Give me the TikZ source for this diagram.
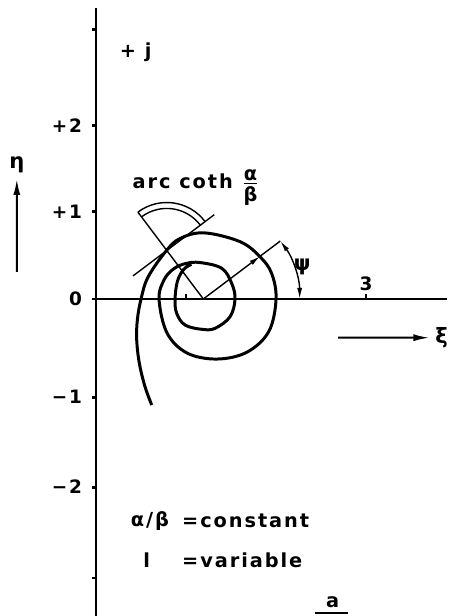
\documentclass[tikz,border=0pt]{standalone}
\usepackage{fontspec}
\setmainfont{DejaVu Sans}
\newfontfamily\letterfont{DejaVu Sans}[LetterSpace=10]
\usepackage{tikz}
\usetikzlibrary{calc,arrows.meta,positioning}

\begin{document}
\begin{tikzpicture}[scale=1.8, >={Latex[length=3.2mm,width=1.4mm]}, line width=0.8pt,
    axisline/.style={line width=1.6pt},
    curve/.style={line width=1.7pt},
    thinline/.style={line width=0.8pt},
    dirarrow/.style={line width=1.1pt,->},
    smalltip/.style={-{Latex[length=2.2mm,width=1mm]}},
    bothtips/.style={{Latex[length=2.2mm,width=1mm]}-{Latex[length=2.2mm,width=1mm]}},
    lbl/.style={font=\letterfont\bfseries\fontsize{11}{13}\selectfont, inner sep=1pt},
    biglbl/.style={font=\letterfont\bfseries\fontsize{12}{14}\selectfont, inner sep=3pt},
    num/.style={font=\letterfont\bfseries\fontsize{10.5}{12}\selectfont, inner sep=1pt}]
    \useasboundingbox (-1.067,-3.522) rectangle (3.922,3.322);
    \draw[axisline] (0,3.23)--(0,-3.53);
    \draw[axisline] (0,0)--(3.9,0);
    \foreach \y in {2.99,1.93,0.97,0,-1.09,-2.09,-3.1}
      \draw[axisline] (0,\y)--(-0.05,\y);
    \foreach \y/\txt [count=\i] in {1.93/+2, 0.97/+1, 0/0, -1.09/−1, -2.09/−2}
      \node[num,left=4pt] (ylab\i) at (-0.05,\y) {\txt};
    \draw[thinline] (1,0)--(1,0.06);
    \draw[thinline] (3,0)--(3,0.06) node[num,above] (xthree) {3};
    \node[lbl] (plusj) at (0.44,2.74) {+ j};
    \node[biglbl] (eta) at (-0.88,1.49) {η};
    \coordinate (etatail) at (-0.88,0.3);
    \draw[dirarrow] (etatail) -- (eta);
    \node[biglbl] (xi) at (3.84,-0.43) {ξ};
    \coordinate (xitail) at (2.69,-0.43);
    \draw[dirarrow] (xitail) -- (xi);
    \draw[curve] plot[smooth,tension=0.6] coordinates {(0.619,-1.178) (0.544,-0.974)
      (0.481,-0.714) (0.452,-0.456) (0.459,-0.233) (0.5,0) (0.578,0.244) (0.778,0.533)
      (0.933,0.672) (1.2,0.735) (1.6,0.637) (1.822,0.469) (1.951,0.284) (2.0,0)
      (1.92,-0.36) (1.678,-0.59) (1.344,-0.667) (1.011,-0.6) (0.789,-0.378) (0.7,0)
      (0.76,0.22) (0.87,0.34) (1.0,0.395) (1.156,0.405) (1.397,0.341) (1.507,0.174)
      (1.544,0) (1.489,-0.197) (1.322,-0.326) (1.178,-0.337) (0.989,-0.289)
      (0.896,-0.159) (0.878,0) (0.905,0.2) (0.975,0.33) (1.06,0.385)};
    \coordinate (C) at (1.192,0);
    \coordinate (T) at ($(C)+(127:0.675)$);
    \coordinate (N) at ($(T)+(127:0.533)$);
    \coordinate (TL) at ($(T)+(217:0.47)$);
    \coordinate (TU) at ($(T)+(37:0.66)$);
    \coordinate (P) at ($(C)+(37:0.79)$);
    \coordinate (R) at ($(C)+(37:1.07)$);
    \draw[thinline] (C) -- (N);
    \draw[thinline] (TL) -- (TU);
    \draw[thinline] ($(T)+(37:0.533)$) arc (37:127:0.533);
    \draw[thinline] ($(T)+(37:0.467)$) arc (37:127:0.467);
    \draw[thinline,smalltip] (C) -- (P);
    \draw[thinline] (P) -- (R);
    \draw[thinline,bothtips] (R) arc (37:0:1.07);
    \node[biglbl,inner sep=1pt] (psi) at (2.29,0.36) {ψ};
    \node[lbl,anchor=west] (arccoth) at (0.38,1.24) {arc coth ${\mbox{α}\above 1pt \mbox{β}}$};
    \node[lbl,anchor=west] (ratio) at (0.36,-2.47) {α/β};
    \node[lbl,anchor=west] (const) at (0.93,-2.47) {=constant};
    \node[lbl,anchor=west] (ell) at (0.5,-2.9) {l};
    \node[lbl,anchor=west] (var) at (0.93,-2.9) {=variable};
    \node[lbl] (afrac) at (2.63,-3.37) {a};
    \draw[line width=1.2pt] ($(afrac)+(-0.2,-0.12)$) -- ($(afrac)+(0.17,-0.12)$);
\end{tikzpicture}
\end{document}
